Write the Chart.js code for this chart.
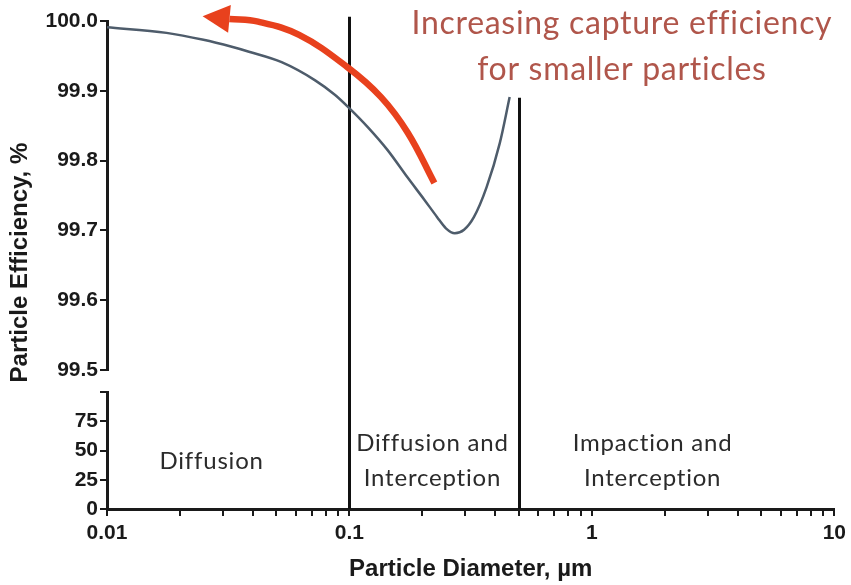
<!DOCTYPE html>
<html>
<head>
<meta charset="utf-8">
<script src="https://cdn.jsdelivr.net/npm/chart.js@4.4.0/dist/chart.umd.min.js"></script>
<style>
  html, body { margin: 0; padding: 0; background: #fff; }
</style>
</head>
<body>
<canvas id="efficiency" width="851" height="585"></canvas>
<script>
// values
var diameter   = [0.01, 0.0176, 0.025, 0.0327, 0.0385, 0.0525, 0.0722, 0.0873, 0.0986, 0.119, 0.1437, 0.1735, 0.2036, 0.23, 0.25, 0.272, 0.297, 0.326, 0.368, 0.417, 0.458];
var efficiency = [99.991, 99.983, 99.973, 99.963, 99.956, 99.941, 99.915, 99.894, 99.877, 99.848, 99.815, 99.776, 99.744, 99.719, 99.703, 99.696, 99.701, 99.719, 99.762, 99.825, 99.891];

// the red arrow, head end first
var arrowX = [0.032, 0.042, 0.062, 0.098, 0.135, 0.174, 0.224];
var arrowY = [100.003, 99.999, 99.980, 99.934, 99.891, 99.840, 99.768];

var topTicks = [99.5, 99.6, 99.7, 99.8, 99.9, 100.0];
var bottomTicks = [0, 25, 50, 75, 100];
var decadeTicks = [0.01, 0.1, 1, 10];

var boundaryX = [0.1, 0.5];
var boundaryTop = [100.006, 99.89];

var regionNames = [["Diffusion"], ["Diffusion and", "Interception"], ["Impaction and", "Interception"]];
var regionX = [0.027, 0.22, 1.78];
var regionY = [41, 41, 41];

var noteLines = ["Increasing capture efficiency", "for smaller particles"];
var noteX = 1.33;
var noteY = [99.996, 99.930];

var ink = '#1a1a1a';
var tickFont = { family: 'Liberation Sans, Arial, sans-serif', size: 21, weight: 'bold' };
var titleFont = { family: 'Liberation Sans, Arial, sans-serif', size: 24, weight: 'bold' };

var minorTicks = [];
decadeTicks.forEach(function (d, i) {
  minorTicks.push(d);
  if (i < decadeTicks.length - 1) {
    for (var m = 2; m <= 9; m++) minorTicks.push(+(d * m).toPrecision(3));
  }
});

function fixWidth(scale) { scale.width = 62; }

var overlay = {
  id: 'overlay',
  beforeDatasetsDraw: function (chart) {
    var ctx = chart.ctx, x = chart.scales.x, yt = chart.scales.yTop, yb = chart.scales.yBottom;
    ctx.save();
    ctx.strokeStyle = '#111';
    ctx.lineWidth = 3;
    boundaryX.forEach(function (v, i) {
      var px = Math.round(x.getPixelForValue(v)) + 0.5;
      ctx.beginPath();
      ctx.moveTo(px, yt.getPixelForValue(boundaryTop[i]));
      ctx.lineTo(px, yb.getPixelForValue(0));
      ctx.stroke();
    });
    ctx.restore();
  },
  afterDatasetsDraw: function (chart) {
    var ctx = chart.ctx, x = chart.scales.x, yt = chart.scales.yTop, yb = chart.scales.yBottom;
    var area = chart.chartArea;
    ctx.save();

    // arrow head at the first point of the arrow line
    var pts = chart.getDatasetMeta(1).data;
    var p0 = pts[0], p1 = pts[1];
    var dx = p0.x - p1.x, dy = p0.y - p1.y, len = Math.sqrt(dx * dx + dy * dy);
    dx /= len; dy /= len;
    ctx.fillStyle = '#e8411d';
    ctx.beginPath();
    ctx.moveTo(p0.x + dx * 27, p0.y + dy * 27);
    ctx.lineTo(p0.x - dy * 14, p0.y + dx * 14);
    ctx.lineTo(p0.x + dy * 14, p0.y - dx * 14);
    ctx.closePath();
    ctx.fill();

    ctx.textAlign = 'center';
    ctx.textBaseline = 'middle';

    // region names
    ctx.fillStyle = '#2b2b2b';
    ctx.font = '24px Lato, sans-serif';
    ctx.letterSpacing = '0.8px';
    regionNames.forEach(function (lines, i) {
      var cx = x.getPixelForValue(regionX[i]);
      var cy = yb.getPixelForValue(regionY[i]);
      var lh = 35;
      lines.forEach(function (t, j) {
        ctx.fillText(t, cx, cy + (j - (lines.length - 1) / 2) * lh);
      });
    });

    // note in red
    ctx.fillStyle = '#b0564b';
    ctx.font = '32px Lato, sans-serif';
    ctx.letterSpacing = '0.7px';
    noteLines.forEach(function (t, j) {
      ctx.fillText(t, x.getPixelForValue(noteX), yt.getPixelForValue(noteY[j]));
    });
    ctx.letterSpacing = '0px';

    // y axis title spanning both parts
    ctx.fillStyle = ink;
    ctx.font = 'bold ' + titleFont.size + 'px ' + titleFont.family;
    ctx.translate(20, area.top + (area.bottom - area.top) * 0.495);
    ctx.rotate(-Math.PI / 2);
    ctx.fillText('Particle Efficiency, %', 0, 0);
    ctx.restore();
  }
};

new Chart(document.getElementById('efficiency'), {
  type: 'line',
  data: {
    datasets: [{
      data: diameter.map(function (d, i) { return { x: d, y: efficiency[i] }; }),
      yAxisID: 'yTop',
      borderColor: '#4e5c6b',
      borderWidth: 2.5,
      pointRadius: 0,
      cubicInterpolationMode: 'monotone',
      fill: false
    }, {
      data: arrowX.map(function (d, i) { return { x: d, y: arrowY[i] }; }),
      yAxisID: 'yTop',
      borderColor: '#e8411d',
      borderWidth: 6.5,
      pointRadius: 0,
      tension: 0.4,
      clip: false,
      fill: false
    }]
  },
  options: {
    responsive: false,
    animation: false,
    layout: { padding: { left: 45, top: 21, right: 0, bottom: 0 } },
    plugins: { legend: { display: false }, tooltip: { enabled: false } },
    scales: {
      x: {
        type: 'logarithmic',
        min: 0.01,
        max: 10,
        afterBuildTicks: function (s) { s.ticks = minorTicks.map(function (v) { return { value: v }; }); },
        afterFit: function (s) { s.height = 76; },
        ticks: {
          autoSkip: false,
          maxRotation: 0,
          padding: 5,
          color: ink,
          font: tickFont,
          callback: function (v) { return decadeTicks.indexOf(v) >= 0 ? String(v) : ''; }
        },
        grid: { drawOnChartArea: false, tickLength: 7, color: ink, lineWidth: 2 },
        border: { color: ink, width: 3 },
        title: { display: true, text: 'Particle Diameter, µm', color: ink, font: titleFont, padding: { top: 0, bottom: 1 } }
      },
      yTop: {
        type: 'linear', position: 'left', stack: 'eff', stackWeight: 349, weight: 2,
        min: 99.5, max: 100,
        afterBuildTicks: function (s) { s.ticks = topTicks.map(function (v) { return { value: v }; }); },
        afterFit: fixWidth,
        ticks: { autoSkip: false, color: ink, font: tickFont, padding: 2, callback: function (v) { return v.toFixed(1); } },
        grid: { drawOnChartArea: false, tickLength: 7, color: ink, lineWidth: 2 },
        border: { color: ink, width: 3 }
      },
      yGap: {
        type: 'linear', position: 'left', stack: 'eff', stackWeight: 22, weight: 1,
        display: true,
        afterFit: fixWidth,
        ticks: { display: false },
        grid: { display: false, drawTicks: false },
        border: { display: false }
      },
      yBottom: {
        type: 'linear', position: 'left', stack: 'eff', stackWeight: 117, weight: 0,
        min: 0, max: 100,
        afterBuildTicks: function (s) { s.ticks = bottomTicks.map(function (v) { return { value: v }; }); },
        afterFit: fixWidth,
        ticks: { autoSkip: false, color: ink, font: tickFont, padding: 2, callback: function (v) { return v === 100 ? '' : String(v); } },
        grid: { drawOnChartArea: false, tickLength: 7, color: ink, lineWidth: 2 },
        border: { color: ink, width: 3 }
      }
    }
  },
  plugins: [overlay]
});
</script>
</body>
</html>
